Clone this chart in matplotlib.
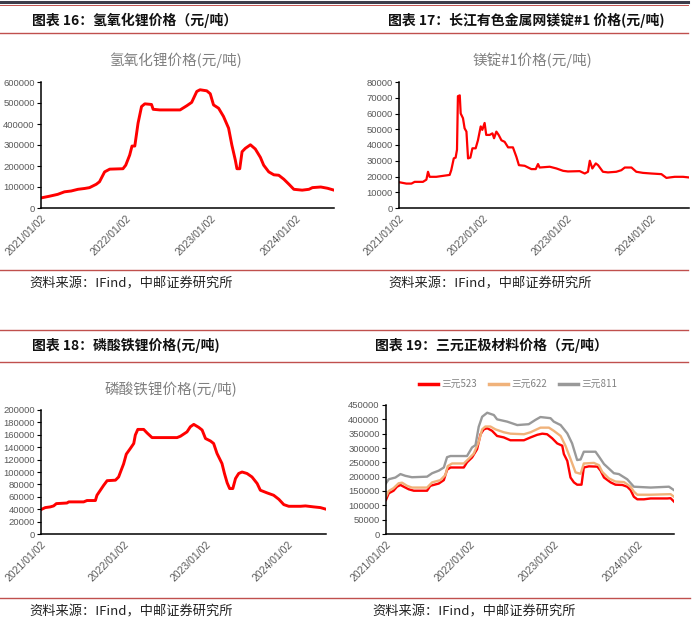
import matplotlib
matplotlib.use('Agg')
import matplotlib.pyplot as plt
import pandas as pd
from matplotlib.lines import Line2D

plt.rcParams['font.family'] = ['Noto Sans CJK SC', 'DejaVu Sans']

# ---- data (days since 2021-01-02, price in yuan/ton) ----
lioh_days = [0, 36, 72, 101, 130, 159, 188, 209, 238, 252, 274, 296, 353, 365, 382, 392, 404, 418, 433, 447,
             476, 483, 512, 599, 628, 649, 671, 685, 714, 729, 743, 765, 786, 808, 822, 837, 844, 856, 866, 880,
             902, 923, 945, 959, 981, 1003, 1024, 1046, 1068, 1089, 1125, 1154, 1169, 1205, 1234, 1262]
lioh_vals = [48000, 56000, 65000, 77000, 81000, 89000, 93000, 97000, 113000, 125000, 172000, 185000, 187000,
             204000, 252000, 295000, 295000, 404000, 483000, 496000, 493000, 470000, 467000, 467000, 487000,
             503000, 555000, 563000, 558000, 544000, 491000, 475000, 436000, 380000, 300000, 228000, 187000,
             187000, 268000, 284000, 301000, 281000, 241000, 204000, 172000, 158000, 156000, 137000, 113000,
             89000, 85000, 89000, 97000, 100000, 94000, 85000]

mg_days = [0, 32, 54, 68, 104, 119, 126, 133, 162, 220, 227, 238, 246, 252, 256, 264, 268, 278, 285, 293,
           300, 310, 319, 333, 343, 355, 362, 372, 379, 394, 406, 413, 423, 433, 445, 459, 474, 495, 510, 521,
           546, 575, 594, 604, 611, 655, 684, 713, 734, 785, 807, 821, 829, 840, 855, 865, 886, 908, 944, 966,
           981, 1010, 1031, 1060, 1096, 1140, 1162, 1176, 1198, 1234, 1260]
mg_vals = [16400, 15500, 15500, 16600, 16600, 18000, 23000, 19800, 19800, 21000, 24000, 31500, 32000, 37000,
           71000, 71500, 60000, 57000, 50600, 48500, 31500, 32000, 37900, 37900, 43000, 51800, 49600, 54000,
           46400, 46400, 47400, 44300, 48500, 46400, 43000, 42000, 38500, 38500, 32500, 27200, 26800, 24700,
           24700, 27900, 25700, 26200, 25100, 23600, 23200, 23400, 21900, 23000, 30000, 25100, 28300, 27200,
           23000, 22600, 23000, 24000, 25700, 25700, 23000, 22300, 21900, 21500, 19100, 19400, 19800, 19800,
           19400]

lfp_days = [0, 19, 41, 56, 68, 115, 123, 189, 204, 241, 248, 263, 278, 293, 330, 344, 355, 366, 378, 396,
            411, 418, 429, 455, 470, 492, 603, 618, 647, 662, 677, 699, 714, 729, 751, 765, 780, 802, 813, 825,
            836, 850, 862, 876, 891, 913, 935, 958, 972, 1002, 1031, 1054, 1076, 1098, 1150, 1172, 1209, 1238, 1263]
lfp_vals = [39400, 42600, 43700, 45300, 49000, 50000, 51800, 51800, 54000, 54000, 62500, 70600, 78700, 86000,
            86800, 92000, 102600, 113000, 128800, 138000, 146000, 159600, 168700, 168700, 163000, 155500,
            155500, 157700, 164700, 173000, 176800, 172000, 167700, 154000, 150000, 146000, 129900, 113700,
            97600, 82500, 73300, 73300, 89500, 97600, 100000, 97600, 92000, 81400, 70600, 66300, 62500, 56000,
            47400, 44700, 44700, 45300, 43700, 42600, 40000]

ncm523_days = [0, 12, 33, 48, 63, 77, 99, 121, 179, 193, 230, 252, 266, 281, 339, 353, 375, 397, 412, 426,
               441, 462, 484, 513, 542, 601, 630, 659, 681, 702, 724, 746, 768, 775, 790, 804, 819, 833, 852,
               862, 884, 921, 935, 950, 979, 1000, 1030, 1051, 1066, 1080, 1095, 1124, 1153, 1226, 1240, 1255]
ncm523_vals = [119000, 142000, 151000, 165000, 171000, 165000, 156000, 151000, 151000, 168000, 176000, 188000,
               224000, 232000, 232000, 250000, 267000, 296000, 348000, 365000, 369000, 360000, 342000, 337000,
               327000, 327000, 337000, 346000, 350000, 348000, 334000, 316000, 308000, 279000, 255000, 197000,
               180000, 172000, 172000, 232000, 236000, 235000, 221000, 197000, 180000, 172000, 171000, 165000,
               153000, 130000, 121000, 121000, 124000, 124000, 125000, 113000]

ncm622_days = [0, 12, 33, 55, 70, 92, 113, 179, 201, 237, 259, 269, 288, 339, 361, 382, 404, 419, 433, 455,
               477, 513, 542, 601, 630, 673, 710, 731, 761, 782, 804, 826, 848, 862, 906, 928, 942, 971, 1000,
               1037, 1066, 1080, 1095, 1153, 1240, 1255]
ncm622_vals = [130000, 150000, 160000, 177000, 179000, 168000, 162000, 162000, 180000, 188000, 206000, 237000,
               246000, 246000, 263000, 280000, 321000, 365000, 375000, 375000, 365000, 355000, 350000, 348000,
               355000, 371000, 371000, 360000, 342000, 308000, 262000, 215000, 210000, 246000, 248000, 240000,
               217000, 194000, 183000, 181000, 165000, 148000, 137000, 137000, 139000, 130000]

ncm811_days = [0, 12, 41, 63, 84, 113, 179, 201, 230, 252, 266, 281, 353, 375, 390, 404, 419, 441, 470, 484,
               528, 572, 622, 651, 673, 717, 731, 761, 790, 811, 833, 848, 862, 913, 928, 950, 993, 1015, 1051,
               1080, 1153, 1233, 1255]
ncm811_vals = [177000, 191000, 197000, 209000, 203000, 198000, 200000, 212000, 221000, 232000, 268000, 272000,
               272000, 302000, 310000, 374000, 409000, 423000, 415000, 400000, 392000, 380000, 383000, 398000,
               408000, 404000, 392000, 380000, 351000, 316000, 258000, 260000, 287000, 287000, 270000, 244000,
               212000, 209000, 191000, 165000, 162000, 165000, 153000]

tick_dates = ['2021-01-02', '2022-01-02', '2023-01-02', '2024-01-02']
ncm_labels = ['三元523', '三元622', '三元811']

# ---- page layout helpers (pixel coords, origin top-left) ----
W, H = 700, 622
fig = plt.figure(figsize=(7, 6.22), dpi=100)
start = pd.Timestamp('2021-01-02')
ticks = pd.to_datetime(tick_dates)


def box(x0, y0, x1, y1):
    return fig.add_axes([x0 / W, 1 - y1 / H, (x1 - x0) / W, (y1 - y0) / H])


def hline(y, x0, x1, color='#C0504D', lw=1.0):
    fig.add_artist(Line2D([x0 / W, x1 / W], [1 - y / H, 1 - y / H], color=color, lw=lw))


def txt(x, y, s, **kw):
    fig.text(x / W, 1 - y / H, s, va='center', **kw)


def to_dates(days):
    return start + pd.to_timedelta(days, unit='D')


def style(ax, last_day, ymax, step):
    ax.set_xlim(start, start + pd.Timedelta(days=last_day))
    ax.set_ylim(0, ymax)
    yt = list(range(0, ymax + 1, step))
    ax.set_yticks(yt)
    ax.set_yticklabels([str(v) for v in yt])
    ax.set_xticks(ticks)
    ax.set_xticklabels([t.strftime('%Y/%m/%d') for t in ticks], rotation=45, ha='right',
                       rotation_mode='anchor')
    for s in ['top', 'right']:
        ax.spines[s].set_visible(False)
    for s in ['left', 'bottom']:
        ax.spines[s].set_linewidth(1.1)
        ax.spines[s].set_color('black')
    ax.tick_params(axis='y', length=3, width=0.8, pad=1.5, labelsize=6.8, labelcolor='#595959')
    ax.tick_params(axis='x', length=0, pad=4, labelsize=7.5, labelcolor='#595959')
    for lbl in ax.get_xticklabels() + ax.get_yticklabels():
        lbl.set_fontfamily('Liberation Sans')


# ---- rules ----
hline(2, 0, 688, color='#3c3c4a', lw=2.2)
hline(5, 0, 688, lw=0.7)
hline(33, 0, 688)
hline(270, 0, 688)
hline(330, 0, 688)
hline(362, 0, 688)
hline(598, 0, 690)

# ---- headings / sources ----
hd = dict(fontsize=10, fontweight='bold', color='#111111')
txt(32, 20, '图表 16：氢氧化锂价格（元/吨）', **hd)
txt(388, 20, '图表 17：长江有色金属网镁锭#1 价格(元/吨)', **hd)
txt(32, 345, '图表 18：磷酸铁锂价格(元/吨)', **hd)
txt(375, 345, '图表 19：三元正极材料价格（元/吨）', **hd)

src = dict(fontsize=9.5, color='#222222')
txt(29, 284, '资料来源：IFind，中邮证券研究所', **src)
txt(388, 284, '资料来源：IFind，中邮证券研究所', **src)
txt(29, 612, '资料来源：IFind，中邮证券研究所', **src)
txt(372, 612, '资料来源：IFind，中邮证券研究所', **src)

sub = dict(fontsize=10.5, color='#808080', ha='center')
txt(175, 60, '氢氧化锂价格(元/吨)', **sub)
txt(532, 60, '镁锭#1价格(元/吨)', **sub)
txt(171, 389, '磷酸铁锂价格(元/吨)', **sub)

# ---- chart 16 ----
ax16 = box(41, 82, 334, 208)
ax16.plot(to_dates(lioh_days), lioh_vals, color='#FF0000', lw=2.1)
style(ax16, lioh_days[-1], 600000, 100000)

# ---- chart 17 ----
ax17 = box(399, 82, 689, 208)
ax17.plot(to_dates(mg_days), mg_vals, color='#FF0000', lw=1.6)
style(ax17, mg_days[-1], 80000, 10000)

# ---- chart 18 ----
ax18 = box(41, 410, 326, 534)
ax18.plot(to_dates(lfp_days), lfp_vals, color='#FF0000', lw=2.1)
style(ax18, lfp_days[-1], 200000, 20000)

# ---- chart 19 ----
ax19 = box(386, 405, 674, 534)
ax19.plot(to_dates(ncm523_days), ncm523_vals, color='#FF0000', lw=1.7, label=ncm_labels[0])
ax19.plot(to_dates(ncm622_days), ncm622_vals, color='#F0B27A', lw=1.7, label=ncm_labels[1])
ax19.plot(to_dates(ncm811_days), ncm811_vals, color='#999999', lw=1.7, label=ncm_labels[2])
style(ax19, ncm523_days[-1], 450000, 50000)
leg = ax19.legend(loc='center', bbox_to_anchor=(518 / W, 1 - 384 / H), bbox_transform=fig.transFigure,
                  ncol=3, frameon=False, fontsize=7, handlelength=2.0, columnspacing=1.2,
                  handletextpad=0.3)
for t in leg.get_texts():
    t.set_color('#808080')
for l in leg.get_lines():
    l.set_linewidth(2.5)

fig.savefig('out.png', dpi=100)
